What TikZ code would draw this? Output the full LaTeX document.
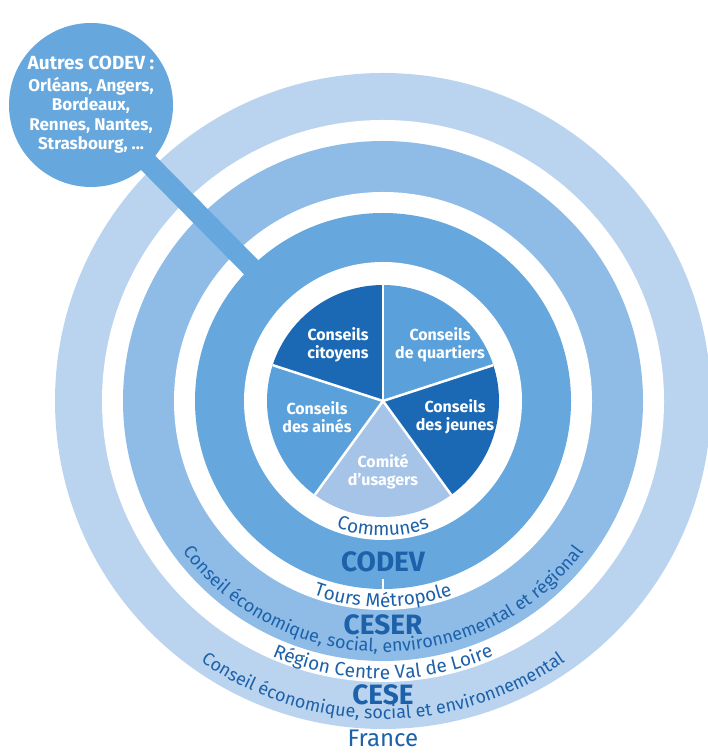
\documentclass[tikz,border=0pt]{standalone}
\usepackage{fontspec}
\setmainfont{Fira Sans}
\usepackage{tikz}
\usetikzlibrary{calc, decorations.text}

\definecolor{cesefill}{HTML}{BAD4EF}
\definecolor{ceserfill}{HTML}{8EBCE7}
\definecolor{codevfill}{HTML}{66A8DE}
\definecolor{piedark}{HTML}{1B69B5}
\definecolor{piemid}{HTML}{5AA1DC}
\definecolor{pielight}{HTML}{A5C4E8}
\definecolor{ringtext}{HTML}{1C61AA}

\newcommand{\ringfont}{\fontsize{19}{19}\selectfont\color{ringtext}}
\newcommand{\longfont}{\fontsize{18}{18}\selectfont\color{ringtext}}

\begin{document}
\begin{tikzpicture}[
    x=1pt, y=1pt,
    ringlabel/.style={font=\bfseries\fontsize{28}{28}\selectfont, text=ringtext, anchor=base, inner sep=0pt},
    slicelabel/.style={font=\bfseries\fontsize{16}{18}\selectfont, text=white, align=center, inner sep=0pt},
    bubble/.style={circle, fill=codevfill, minimum size=164pt, inner sep=0pt, text=white, align=center, font=\bfseries\fontsize{17}{19.5}\selectfont},
    bar/.style={draw=codevfill, line width=20pt},
    slicesep/.style={draw=white, line width=2.5pt},
    curved/.style={decorate, decoration={text along path, text align=center, text={|\ringfont|#1}}},
    curvedlong/.style={decorate, decoration={text along path, text align=center, text={|\longfont|#1}}}
]

    % Frame
    \useasboundingbox (0,0) rectangle (707,754);
    \coordinate (C) at (383,353);

    % Rings
    \fill[cesefill] (C) circle[radius=328];
    \fill[white] (C) circle[radius=281];
    \fill[ceserfill] (C) circle[radius=260];
    \fill[white] (C) circle[radius=209];
    \fill[codevfill] (C) circle[radius=188];
    \fill[white] (C) circle[radius=139];

    % Other CODEV bubble, linked into the CODEV ring
    \coordinate (codevring) at ($(C)+(134.6:165)$);
    \node[bubble] (autres) at (91,649) {{\fontsize{19}{21}\selectfont Autres CODEV :}\\[2pt]
        Orléans, Angers,\\ Bordeaux,\\ Rennes, Nantes,\\ Strasbourg, ...};
    \draw[bar, shorten <=-4pt] (autres) -- (codevring);

    % Pie of local councils
    \foreach \a/\col in {90/piedark, 18/piemid, -54/piedark, -126/pielight, 162/piemid}
        \fill[\col] (C) -- ($(C)+(\a:116)$) arc[start angle=\a, delta angle=72, radius=116] -- cycle;
    \foreach \a in {90, 18, -54, -126, 162}
        \draw[slicesep] (C) -- ($(C)+(\a:116)$);

    \node[slicelabel] (citoyens) at (338,409) {Conseils\\citoyens};
    \node[slicelabel] (quartiers) at (440,409) {Conseils\\de quartiers};
    \node[slicelabel] (jeunes) at (455,337) {Conseils\\des jeunes};
    \node[slicelabel] (aines) at (317,337) {Conseils\\des ainés};
    \node[slicelabel] (comite) at (383,282) {Comité\\d'usagers};

    % Curved ring texts
    \path[curved={Communes}] ($(C)+(200:135)$) arc[start angle=200, end angle=340, radius=135];
    \path[curved={Tours Métropole}] ($(C)+(210:206)$) arc[start angle=210, end angle=330, radius=206];
    \path[curvedlong={Conseil économique, social, environnemental et régional}] ($(C)+(190:251)$) arc[start angle=190, end angle=350, radius=251];
    \path[curved={Région Centre Val de Loire}] ($(C)+(210:278)$) arc[start angle=210, end angle=330, radius=278];
    \path[curvedlong={Conseil économique, social et environnemental}] ($(C)+(200:318)$) arc[start angle=200, end angle=340, radius=318];

    % Ring names
    \node[ringlabel] (codev) at (383,182) {CODEV};
    \node[ringlabel] (ceser) at (383,119) {CESER};
    \node[ringlabel] (cese) at (383,49) {CESE};
    \node[ringlabel, font=\fontsize{24}{24}\selectfont] (france) at (383,7) {France};

    % small tick under CODEV
    \coordinate (tick) at (383,164);
    \draw[white, line width=1.5pt, shorten <=6pt] (codev.south) -- (tick);

\end{tikzpicture}
\end{document}
